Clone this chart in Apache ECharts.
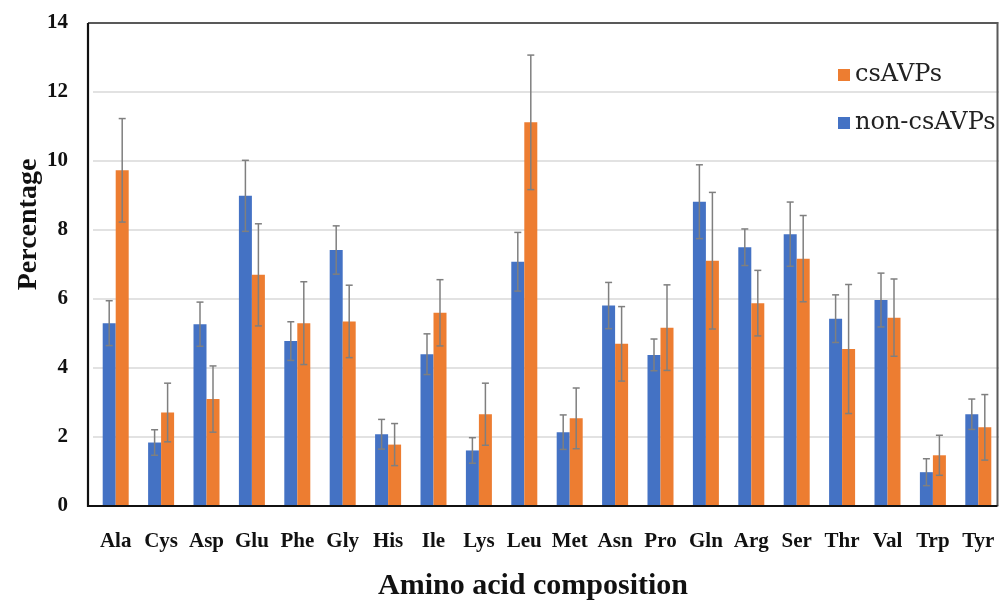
<!DOCTYPE html>
<html>
<head>
<meta charset="utf-8">
<script src="https://cdn.jsdelivr.net/npm/echarts@6/dist/echarts.min.js"></script>
<style>html,body{margin:0;padding:0;background:#fff}#main{width:999px;height:600px}</style>
</head>
<body>
<div id="main"></div>
<script>
const categories = ['Ala','Cys','Asp','Glu','Phe','Gly','His','Ile','Lys','Leu','Met','Asn','Pro','Gln','Arg','Ser','Thr','Val','Trp','Tyr'];
const nonCsAVPs = [5.30,1.84,5.27,8.99,4.78,7.42,2.08,4.40,1.61,7.08,2.14,5.81,4.38,8.82,7.50,7.88,5.43,5.97,0.98,2.66];
const nonCsAVPsErr = [0.65,0.37,0.64,1.03,0.56,0.70,0.43,0.59,0.37,0.85,0.50,0.67,0.46,1.07,0.53,0.93,0.69,0.78,0.39,0.44];
const csAVPs = [9.73,2.71,3.10,6.70,5.30,5.35,1.78,5.60,2.66,11.12,2.54,4.70,5.17,7.11,5.88,7.17,4.55,5.46,1.47,2.28];
const csAVPsErr = [1.50,0.85,0.96,1.48,1.20,1.05,0.61,0.96,0.90,1.95,0.88,1.08,1.24,1.98,0.95,1.25,1.87,1.12,0.58,0.95];
const yTicks = [0,2,4,6,8,10,12,14];

const BLUE = '#4472C4', ORANGE = '#ED7D31';
const BAR_W = 13;
const FONT = '"Liberation Serif", "Times New Roman", serif';

function errData(vals, errs) {
  return vals.map((v, i) => [i, v, v - errs[i], v + errs[i]]);
}
function errRender(offset) {
  return function (params, api) {
    const c = api.value(0);
    const lo = api.coord([c, api.value(2)]);
    const hi = api.coord([c, api.value(3)]);
    const x = lo[0] + offset;
    const cap = 3.5;
    const style = { stroke: '#7f7f7f', lineWidth: 1.5, fill: null };
    return {
      type: 'group',
      children: [
        { type: 'line', shape: { x1: x, y1: hi[1], x2: x, y2: lo[1] }, style },
        { type: 'line', shape: { x1: x - cap, y1: hi[1], x2: x + cap, y2: hi[1] }, style },
        { type: 'line', shape: { x1: x - cap, y1: lo[1], x2: x + cap, y2: lo[1] }, style }
      ]
    };
  };
}

const chart = echarts.init(document.getElementById('main'), null, { renderer: 'canvas' });
const option = {
  animation: false,
  backgroundColor: '#fff',
  grid: { left: 93, right: -2, top: 23, bottom: 94, containLabel: false, outerBoundsMode: 'none' },
  legend: {
    orient: 'vertical',
    left: 833, top: 57,
    data: ['csAVPs', 'non-csAVPs'],
    itemWidth: 12, itemHeight: 12, itemGap: 22,
    icon: 'rect',
    textStyle: { fontFamily: '"DejaVu Serif", serif', fontSize: 24, color: '#222', lineHeight: 26 }
  },
  xAxis: {
    type: 'category',
    data: categories,
    axisLine: { show: false },
    axisTick: { show: false },
    axisLabel: { fontFamily: FONT, fontWeight: 'bold', fontSize: 21, color: '#111', margin: 25, interval: 0 },
    name: 'Amino acid composition',
    nameLocation: 'middle',
    nameGap: 65,
    nameMoveOverlap: false,
    nameTextStyle: { fontFamily: FONT, fontWeight: 'bold', fontSize: 30, color: '#111', padding: [0, 28, 0, 0] }
  },
  yAxis: {
    type: 'value',
    min: 0, max: 14, interval: 2,
    offset: 5,
    axisLine: { show: false },
    axisTick: { show: false },
    axisLabel: { fontFamily: FONT, fontWeight: 'bold', fontSize: 21, color: '#111', margin: 20,
      formatter: v => yTicks.includes(v) ? String(v) : '' },
    splitLine: { show: true, lineStyle: { color: '#d9d9d9', width: 1.5 } },
    name: 'Percentage',
    nameLocation: 'middle',
    nameGap: 45,
    nameMoveOverlap: false,
    nameRotate: 90,
    nameTextStyle: { fontFamily: FONT, fontWeight: 'bold', fontSize: 28, color: '#111', padding: [0, 0, 0, 80] }
  },
  series: [
    { name: 'non-csAVPs', type: 'bar', data: nonCsAVPs, barWidth: BAR_W, barGap: '0%', itemStyle: { color: BLUE }, z: 2 },
    { name: 'csAVPs', type: 'bar', data: csAVPs, barWidth: BAR_W, barGap: '0%', itemStyle: { color: ORANGE }, z: 2 },
    { name: 'errNon', type: 'custom', data: errData(nonCsAVPs, nonCsAVPsErr), renderItem: errRender(-BAR_W / 2), z: 5, silent: true },
    { name: 'errCs', type: 'custom', data: errData(csAVPs, csAVPsErr), renderItem: errRender(BAR_W / 2), z: 5, silent: true }
  ]
};
chart.setOption(option);

// frame drawn from axis scale positions
const yBottom = chart.convertToPixel({ yAxisIndex: 0 }, 0);
const yTop = chart.convertToPixel({ yAxisIndex: 0 }, 14);
const xLeft = 88, xRight = 997.5;
chart.setOption({
  graphic: [
    { type: 'polyline', z: 10, shape: { points: [[xLeft, yTop], [xRight, yTop], [xRight, yBottom]] }, style: { stroke: '#595959', lineWidth: 2, fill: null } },
    { type: 'polyline', z: 11, shape: { points: [[xLeft, yTop], [xLeft, yBottom], [xRight, yBottom]] }, style: { stroke: '#111', lineWidth: 2.2, fill: null } }
  ]
});
</script>
</body>
</html>
